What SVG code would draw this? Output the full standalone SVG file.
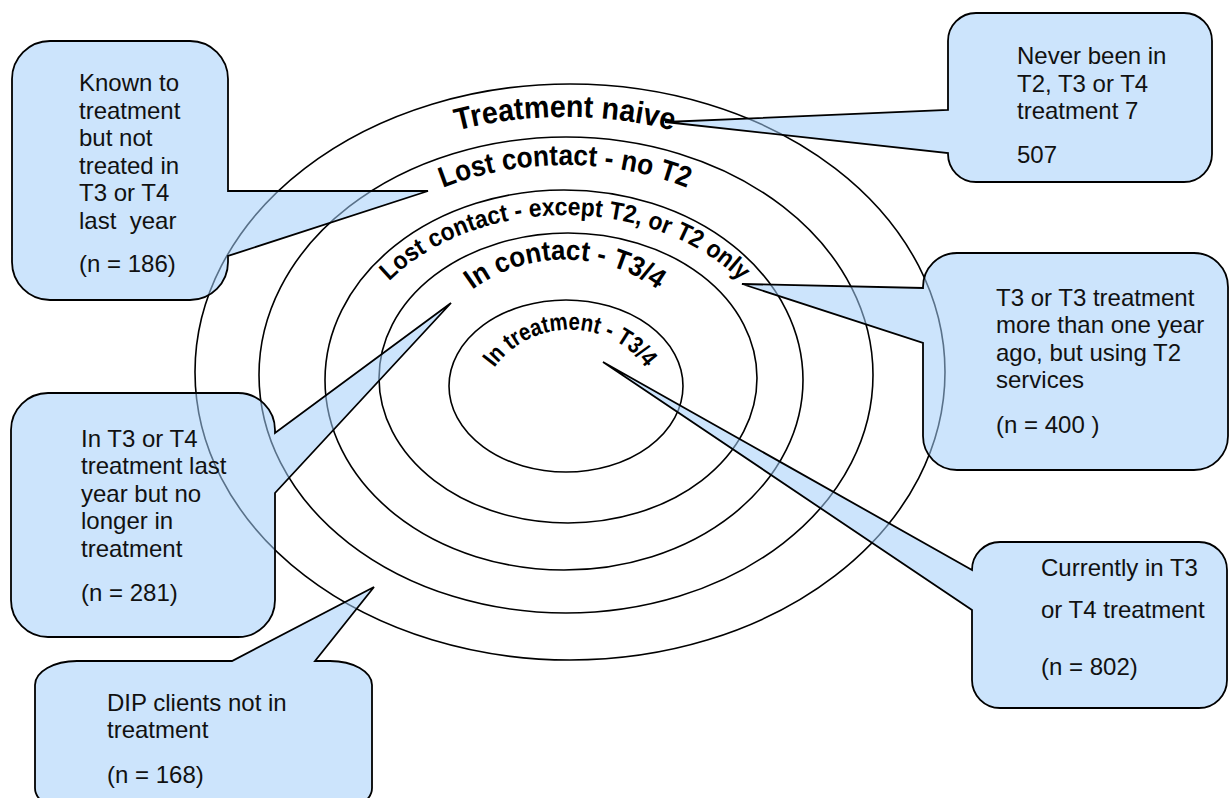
<svg xmlns="http://www.w3.org/2000/svg" xmlns:xlink="http://www.w3.org/1999/xlink" width="1229" height="798" viewBox="0 0 1229 798">
<style>
.ring{fill:none;stroke:#000;stroke-width:1.6}
.call{fill:rgb(162,206,250);fill-opacity:0.55;stroke:#000;stroke-width:1.8;stroke-linejoin:miter}
.t{font-family:"Liberation Sans",Arial,sans-serif;font-size:24px;fill:#111}
.arc{font-family:"Liberation Sans",Arial,sans-serif;font-weight:bold;fill:#000}
</style>
<defs>
<path id="p1" d="M 400 150 A 340 263 0 0 1 730 150"/>
<path id="p2" d="M 380 222 A 273 215 0 0 1 750 222"/>
<path id="p3" d="M 355 330 A 222 170 0 0 1 775 330"/>
<path id="p4" d="M 425 350 A 150 141 0 0 1 705 350"/>
<path id="p5" d="M 482 392 A 92 88 0 0 1 658 392"/>
</defs>
<rect width="1229" height="798" fill="#fff"/>
<g id="rings">
<ellipse class="ring" cx="570" cy="372" rx="375" ry="288"/>
<ellipse class="ring" cx="566" cy="375" rx="307" ry="238"/>
<ellipse class="ring" cx="564" cy="380" rx="239" ry="190"/>
<ellipse class="ring" cx="568" cy="378" rx="189" ry="145"/>
<ellipse class="ring" cx="566" cy="386" rx="117" ry="86"/>
</g>
<g id="ring-labels">
<text class="arc" font-size="31"><textPath xlink:href="#p1" href="#p1" startOffset="50%" text-anchor="middle" textLength="218" lengthAdjust="spacingAndGlyphs">Treatment naive</textPath></text>
<text class="arc" font-size="29"><textPath xlink:href="#p2" href="#p2" startOffset="50%" text-anchor="middle" textLength="250" lengthAdjust="spacingAndGlyphs">Lost contact - no T2</textPath></text>
<text class="arc" font-size="25"><textPath xlink:href="#p3" href="#p3" startOffset="50%" text-anchor="middle" textLength="385" lengthAdjust="spacingAndGlyphs">Lost contact - except T2, or T2 only</textPath></text>
<text class="arc" font-size="28"><textPath xlink:href="#p4" href="#p4" startOffset="50%" text-anchor="middle" textLength="198" lengthAdjust="spacingAndGlyphs">In contact - T3/4</textPath></text>
<text class="arc" font-size="24"><textPath xlink:href="#p5" href="#p5" startOffset="50%" text-anchor="middle" textLength="176" lengthAdjust="spacingAndGlyphs">In treatment - T3/4</textPath></text>
</g>
<g id="connectors"/>
<g id="callout-known">
<path class="call" d="M 50 41 H 190 A 38 38 0 0 1 228 79 V 191 L 428 191 L 228 256 V 262 A 38 38 0 0 1 190 300 H 50 A 38 38 0 0 1 12 262 V 79 A 38 38 0 0 1 50 41 Z"/>
<text class="t" x="79" y="91">Known to</text>
<text class="t" x="79" y="118.5">treatment</text>
<text class="t" x="79" y="146">but not</text>
<text class="t" x="79" y="173.5">treated in</text>
<text class="t" x="79" y="201">T3 or T4</text>
<text class="t" x="79" y="228.5" xml:space="preserve" style="white-space:pre">last  year</text>
<text class="t" x="79" y="272">(n = 186)</text>
</g>
<g id="callout-never">
<path class="call" d="M 976 13 H 1184 A 28 28 0 0 1 1212 41 V 154 A 28 28 0 0 1 1184 182 H 976 A 28 28 0 0 1 948 154 V 153 L 665 122 L 948 110 V 41 A 28 28 0 0 1 976 13 Z"/>
<text class="t" x="1017" y="64">Never been in</text>
<text class="t" x="1017" y="92">T2, T3 or T4</text>
<text class="t" x="1017" y="119">treatment 7</text>
<text class="t" x="1017" y="163">507</text>
</g>
<g id="callout-t2">
<path class="call" d="M 957 253 H 1194 A 34 34 0 0 1 1228 287 V 436 A 34 34 0 0 1 1194 470 H 957 A 34 34 0 0 1 923 436 V 343 L 742 284 L 923 288 V 287 A 34 34 0 0 1 957 253 Z"/>
<text class="t" x="996" y="306">T3 or T3 treatment</text>
<text class="t" x="996" y="333">more than one year</text>
<text class="t" x="996" y="361">ago, but using T2</text>
<text class="t" x="996" y="388">services</text>
<text class="t" x="996" y="433">(n = 400 )</text>
</g>
<g id="callout-lastyear">
<path class="call" d="M 48 393 H 238 A 37 37 0 0 1 275 430 V 433 L 451 303 L 275 493 V 600 A 37 37 0 0 1 238 637 H 48 A 37 37 0 0 1 11 600 V 430 A 37 37 0 0 1 48 393 Z"/>
<text class="t" x="81" y="447">In T3 or T4</text>
<text class="t" x="81" y="474">treatment last</text>
<text class="t" x="81" y="502">year but no</text>
<text class="t" x="81" y="529">longer in</text>
<text class="t" x="81" y="557">treatment</text>
<text class="t" x="81" y="601">(n = 281)</text>
</g>
<g id="callout-dip">
<path class="call" d="M 77 661 H 232 L 374 587 L 315 661 H 330 A 42 24 0 0 1 372 685 V 788 A 42 24 0 0 1 330 812 H 77 A 42 24 0 0 1 35 788 V 685 A 42 24 0 0 1 77 661 Z"/>
<text class="t" x="107" y="711">DIP clients not in</text>
<text class="t" x="107" y="738">treatment</text>
<text class="t" x="107" y="783">(n = 168)</text>
</g>
<g id="callout-current">
<path class="call" d="M 1000 542 H 1199 A 28 28 0 0 1 1227 570 V 680 A 28 28 0 0 1 1199 708 H 1000 A 28 28 0 0 1 972 680 V 610 L 603 362 L 972 570 A 28 28 0 0 1 1000 542 Z"/>
<text class="t" x="1041" y="576">Currently in T3</text>
<text class="t" x="1041" y="618">or T4 treatment</text>
<text class="t" x="1041" y="675">(n = 802)</text>
</g>
</svg>
